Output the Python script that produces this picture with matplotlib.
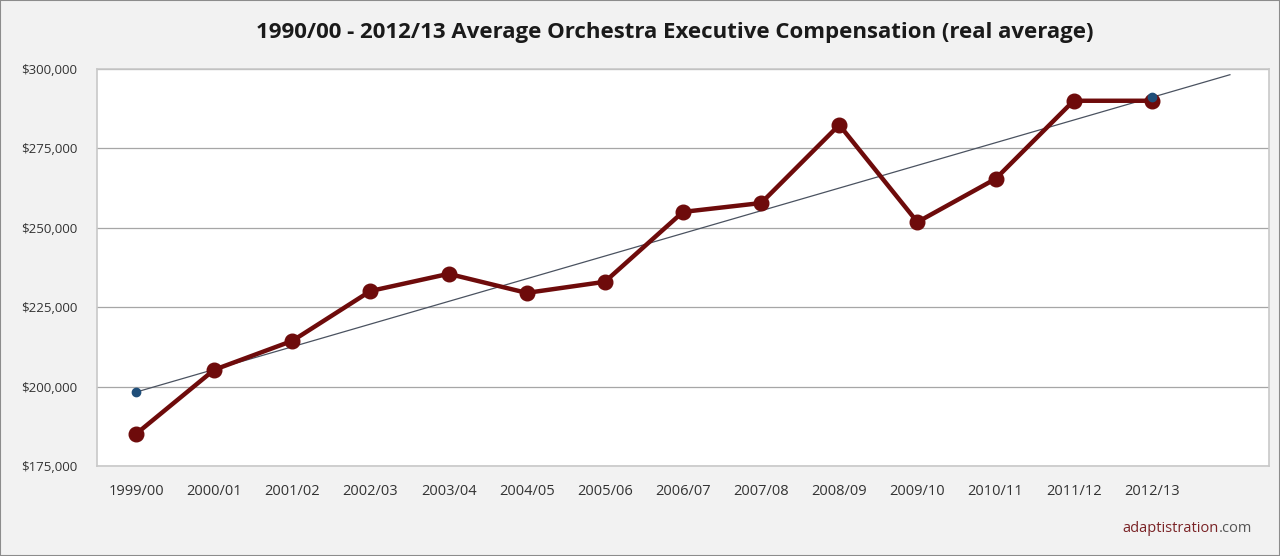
import numpy as np
import matplotlib
matplotlib.use("Agg")
import matplotlib.pyplot as plt
from matplotlib.ticker import FuncFormatter

seasons = ["1999/00", "2000/01", "2001/02", "2002/03", "2003/04", "2004/05", "2005/06",
           "2006/07", "2007/08", "2008/09", "2009/10", "2010/11", "2011/12", "2012/13"]
compensation = [185100, 205300, 214400, 230100, 235500, 229500, 233000,
                255000, 257800, 282400, 251800, 265400, 290000, 290000]
y_ticks = [175000, 200000, 225000, 250000, 275000, 300000]
title = "1990/00 - 2012/13 Average Orchestra Executive Compensation (real average)"

plt.rcParams['font.family'] = ['Open Sans', 'DejaVu Sans']

fig = plt.figure(figsize=(12.8, 5.56), dpi=100, facecolor="#f2f2f2")
ax = fig.add_axes([0.0758, 0.1619, 0.9156, 0.714])
ax.set_facecolor("white")

x = np.arange(len(seasons))
# linear trendline with one-period forward forecast
coef = np.polyfit(x, compensation, 1)
xt = np.array([0, len(seasons)])
ax.plot(xt, np.polyval(coef, xt), color="#4a5260", lw=0.9, zorder=2)

ax.plot(x, compensation, color="#6e0b0b", lw=3.2, marker="o", markersize=10.5,
        markerfacecolor="#6e0b0b", markeredgecolor="#6e0b0b", zorder=3)

# trend endpoint markers
xe = np.array([0, len(seasons) - 1])
ax.plot(xe, np.polyval(coef, xe), ls="none", marker="o", markersize=6,
        color="#1f4e79", zorder=4)

ax.set_xlim(-0.5, len(seasons) + 0.5)
ax.set_ylim(y_ticks[0], y_ticks[-1])
ax.set_yticks(y_ticks)
ax.yaxis.set_major_formatter(FuncFormatter(lambda v, p: f"${v:,.0f}"))
ax.set_xticks(x)
ax.set_xticklabels(seasons)
ax.grid(axis="y", color="#a6a6a6", lw=0.9)
ax.set_axisbelow(True)
ax.tick_params(length=0, colors="#333333")
ax.tick_params(axis="y", pad=14, labelsize=9.5)
ax.tick_params(axis="x", pad=13, labelsize=10.5)
for s in ax.spines.values():
    s.set_color("#c8c8c8")
    s.set_linewidth(1.2)

fig.text(0.527, 0.941, title, ha="center", va="center", fontsize=16,
         fontweight="bold", color="#1a1a1a")

t1 = fig.text(0.9785, 0.049, ".com", ha="right", va="center", fontsize=10.5, color="#555555")
fig.canvas.draw()
bb = t1.get_window_extent()
fig.text(bb.x0 / fig.bbox.width, 0.049, "adaptistration", ha="right", va="center",
         fontsize=10.5, color="#7a2326")

# outer border
fig.patches.append(plt.Rectangle((0, 0), 1, 1, transform=fig.transFigure, fill=False,
                                 edgecolor="#8c8c8c", lw=1.5))

fig.savefig("out.png", dpi=100, facecolor=fig.get_facecolor())
